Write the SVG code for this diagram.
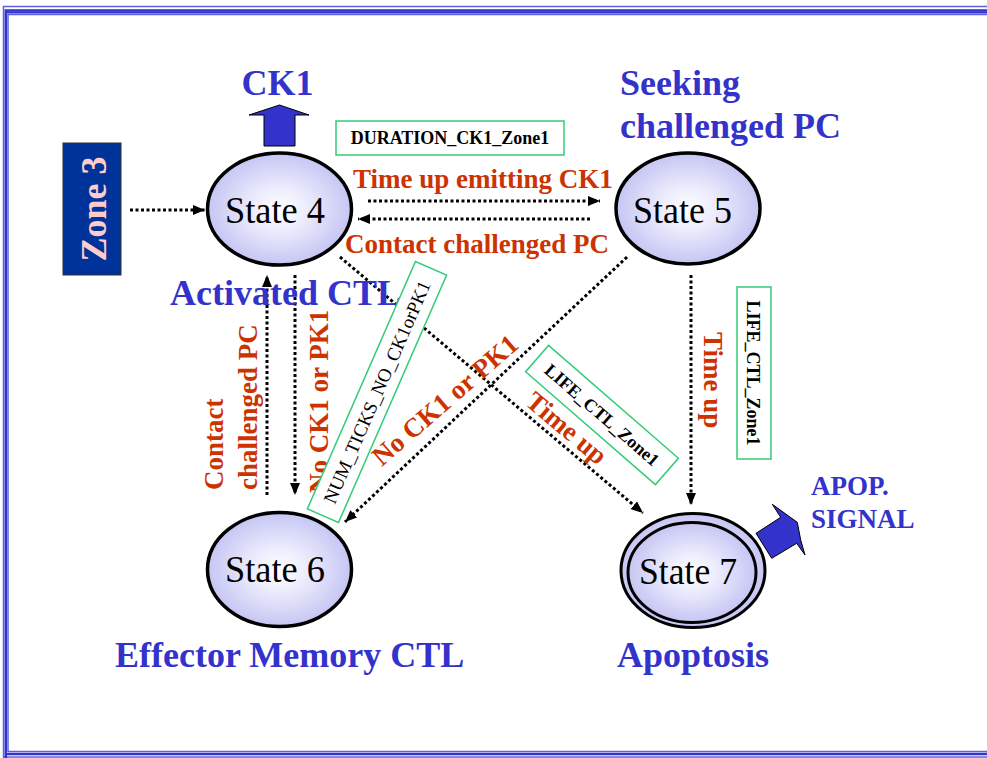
<svg xmlns="http://www.w3.org/2000/svg" width="987" height="758" viewBox="0 0 987 758">
  <defs>
    <radialGradient id="cellFill" cx="50%" cy="50%" r="55%">
      <stop offset="0" stop-color="#ffffff"/>
      <stop offset="0.35" stop-color="#ececfd"/>
      <stop offset="1" stop-color="#bfbff2"/>
    </radialGradient>
    <marker id="head" viewBox="0 0 12 10" refX="12" refY="5" markerWidth="12" markerHeight="10" markerUnits="userSpaceOnUse" orient="auto">
      <path d="M0,0 L12,5 L0,10 z" fill="#000"/>
    </marker>
    <style>
      .state { fill: url(#cellFill); stroke: #000; stroke-width: 3.5; }
      .thin { stroke-width: 3; }
      .stateText { font-family: "Liberation Serif", "Times New Roman", serif; font-size: 38px; fill: #000; text-anchor: middle; }
      .title { font-family: "Liberation Serif", "Times New Roman", serif; font-weight: bold; font-size: 36px; fill: #3333cc; }
      .small { font-size: 27px; }
      .event { font-family: "Liberation Serif", "Times New Roman", serif; font-weight: bold; font-size: 27px; fill: #cc3300; }
      .param { font-family: "Liberation Serif", "Times New Roman", serif; font-weight: bold; font-size: 18px; fill: #000; }
      .plain { font-weight: normal; font-size: 19px; }
      .paramBox { fill: #fff; stroke: #33cc77; stroke-width: 1.5; }
      .flow { fill: none; stroke: #000; stroke-width: 3; stroke-dasharray: 3 2.5; marker-end: url(#head); }
      .signal { fill: #3333cc; stroke: #000; stroke-width: 1; }
    </style>
  </defs>

  <rect width="987" height="758" fill="#ffffff"/>

  <!-- triple-line page frame -->
  <g id="frame" fill="none">
    <path d="M3.5,760 V6.5 H990 M3.5,757 H990" stroke="#6060dd" stroke-width="1.5"/>
    <path d="M5.8,760 V10.5 H990 M5.8,754 H990" stroke="#3333cc" stroke-width="2.5"/>
    <path d="M5.8,12.5 H990" stroke="#3333cc" stroke-width="2"/>
    <path d="M8,752 V14.5 H990 M8,751.5 H990" stroke="#6060dd" stroke-width="1.5"/>
  </g>

  <!-- transitions -->
  <g id="connectors">
    <path class="flow" d="M130,210 L205,210"/>
    <path class="flow" d="M368,201 L600,201"/>
    <path class="flow" d="M590,219 L358,219"/>
    <path class="flow" d="M267,495 L267,275"/>
    <path class="flow" d="M295,275 L295,495"/>
    <path class="flow" d="M627,257 L345,522"/>
    <path class="flow" d="M340,257 L643,513"/>
    <path class="flow" d="M691,275 L691,505"/>
  </g>

  <g id="zone3">
    <rect x="63" y="143" width="58" height="132" fill="#003399" stroke="#333" stroke-width="1"/>
    <text transform="translate(106,209) rotate(-90)" text-anchor="middle" font-family="Liberation Serif, Times New Roman, serif" font-weight="bold" font-size="36" fill="#ffcccc">Zone 3</text>
  </g>

  <g id="state4">
    <ellipse class="state" cx="279.5" cy="209" rx="72" ry="56"/>
    <text class="stateText" x="275" y="223" textLength="100" lengthAdjust="spacingAndGlyphs">State 4</text>
  </g>

  <g id="state5">
    <ellipse class="state" cx="688" cy="208.5" rx="72" ry="55.5"/>
    <text class="stateText" x="682.5" y="223" textLength="99" lengthAdjust="spacingAndGlyphs">State 5</text>
  </g>

  <g id="state6">
    <ellipse class="state" cx="279.5" cy="569.5" rx="72" ry="57"/>
    <text class="stateText" x="275" y="582" textLength="100" lengthAdjust="spacingAndGlyphs">State 6</text>
  </g>

  <g id="state7">
    <ellipse class="state thin" cx="693" cy="570.5" rx="72" ry="57"/>
    <ellipse class="state thin" cx="692" cy="572.5" rx="64" ry="50"/>
    <text class="stateText" x="688" y="584" textLength="98" lengthAdjust="spacingAndGlyphs">State 7</text>
  </g>

  <g id="ck1">
    <polygon class="signal" points="264,146 295,146 295,115 309,115 279.5,105 249,115 264,115"/>
    <text class="title" x="277.5" y="95" text-anchor="middle">CK1</text>
  </g>

  <g id="apop-signal">
    <polygon class="signal" points="756,533.3 780.7,517.3 772.3,504.3 797.3,522.3 800.7,540 805,555 796.7,543.3 771.7,558.3"/>
    <text class="title small"><tspan x="811" y="495">APOP.</tspan><tspan x="811" y="528">SIGNAL</tspan></text>
  </g>

  <g id="state-names">
    <text class="title"><tspan x="620" y="95">Seeking</tspan><tspan x="620" y="138">challenged PC</tspan></text>
    <text class="title" x="170" y="305">Activated CTL</text>
    <text class="title" x="115" y="667">Effector Memory CTL</text>
    <text class="title" x="617" y="667">Apoptosis</text>
  </g>

  <g id="event-labels">
    <text class="event" x="353" y="188">Time up emitting CK1</text>
    <text class="event" x="345" y="253">Contact challenged PC</text>
    <text class="event" transform="translate(223,490) rotate(-90)">Contact</text>
    <text class="event" transform="translate(257,490) rotate(-90)">challenged PC</text>
    <text class="event" transform="translate(328,493) rotate(-90)">No CK1 or PK1</text>
    <text class="event" text-anchor="middle" transform="translate(451,407) rotate(-41)">No CK1 or PK1</text>
    <text class="event" text-anchor="middle" transform="translate(561,435) rotate(40)">Time up</text>
    <text class="event" transform="translate(704,332) rotate(90)">Time up</text>
  </g>

  <g id="duration-param">
    <rect class="paramBox" x="336" y="121" width="228" height="34"/>
    <text class="param" x="450" y="144" text-anchor="middle">DURATION_CK1_Zone1</text>
  </g>

  <g id="num-ticks-param" transform="translate(377,392) rotate(-66.4)">
    <rect class="paramBox" x="-135" y="-17" width="270" height="34"/>
    <text class="param plain" y="6.5" text-anchor="middle">NUM_TICKS_NO_CK1orPK1</text>
  </g>

  <g id="life-param-diag" transform="translate(602,415) rotate(41)">
    <rect class="paramBox" x="-86" y="-17.5" width="172" height="35"/>
    <text class="param" y="6" text-anchor="middle">LIFE_CTL_Zone1</text>
  </g>

  <g id="life-param-vert">
    <rect class="paramBox" x="737" y="287" width="34" height="172"/>
    <text class="param" text-anchor="middle" transform="translate(747,373) rotate(90)">LIFE_CTL_Zone1</text>
  </g>
</svg>
